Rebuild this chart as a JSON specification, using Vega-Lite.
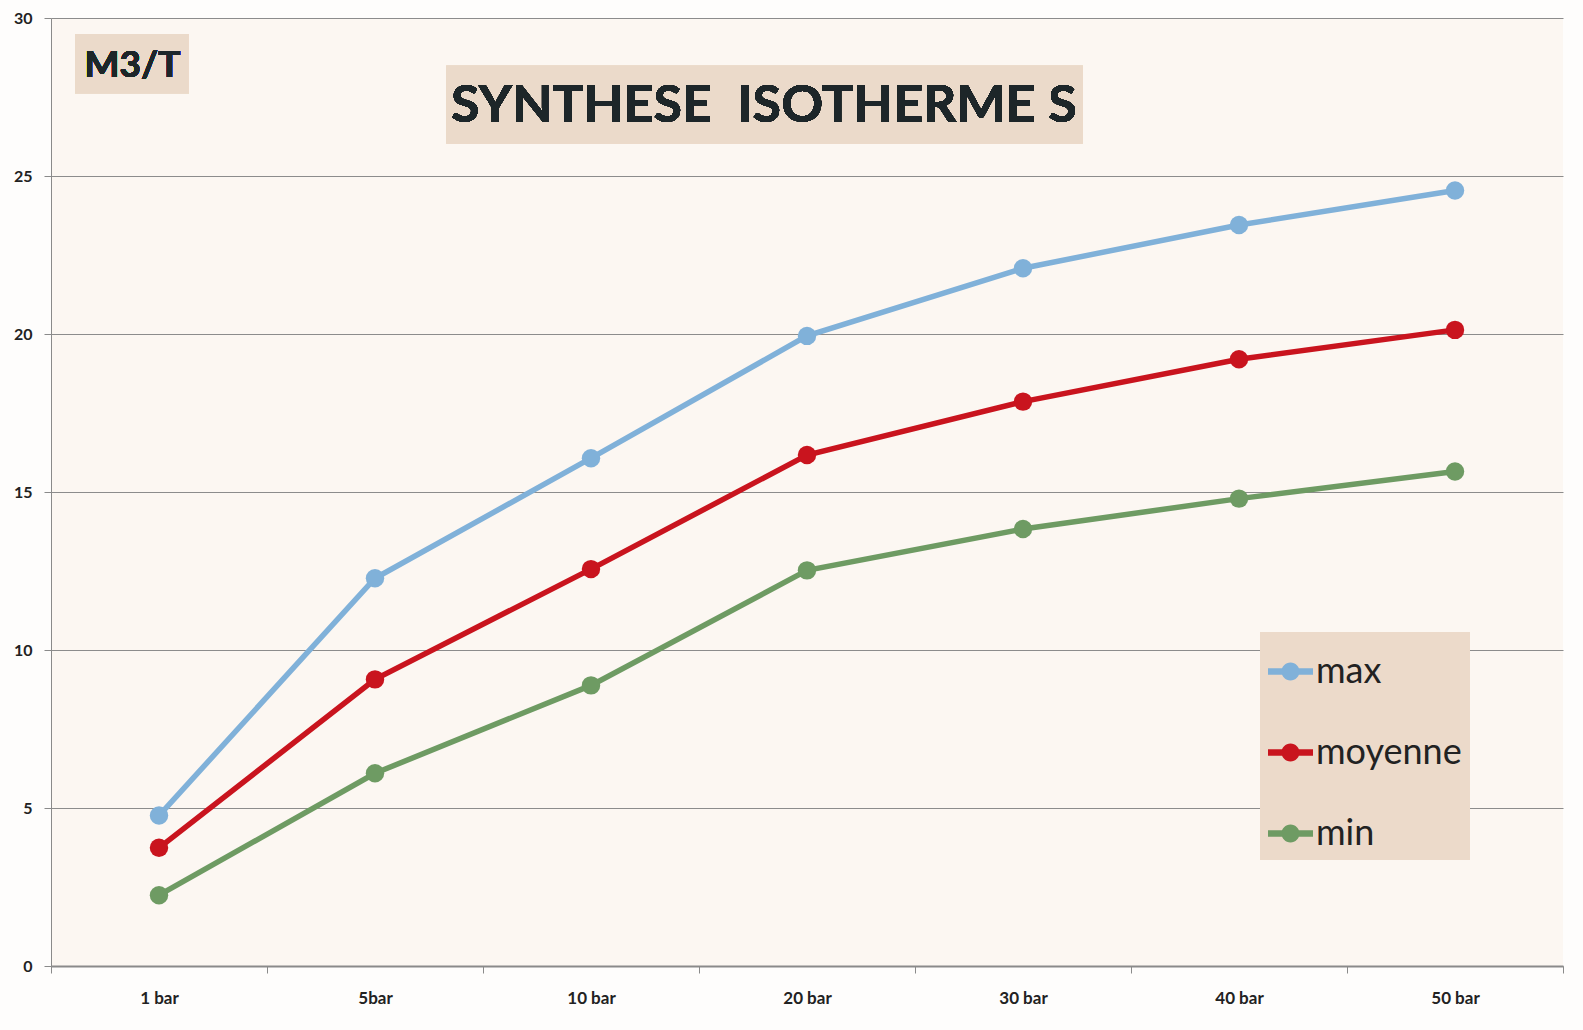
{
  "$schema": "https://vega.github.io/schema/vega-lite/v6.json",
  "width": 1512,
  "height": 948,
  "autosize": "none",
  "padding": {"left": 51, "top": 18, "right": 20, "bottom": 64},
  "background": "#fefdfc",
  "config": {
    "view": {"fill": "#fcf7f2", "stroke": null},
    "font": "Lato"
  },
  "data": {
    "values": [
      {"p": "1 bar", "s": "max", "v": 4.76},
      {"p": "5bar", "s": "max", "v": 12.27},
      {"p": "10 bar", "s": "max", "v": 16.07},
      {"p": "20 bar", "s": "max", "v": 19.94},
      {"p": "30 bar", "s": "max", "v": 22.08},
      {"p": "40 bar", "s": "max", "v": 23.45},
      {"p": "50 bar", "s": "max", "v": 24.54},
      {"p": "1 bar", "s": "moyenne", "v": 3.74},
      {"p": "5bar", "s": "moyenne", "v": 9.07},
      {"p": "10 bar", "s": "moyenne", "v": 12.56},
      {"p": "20 bar", "s": "moyenne", "v": 16.17},
      {"p": "30 bar", "s": "moyenne", "v": 17.86},
      {"p": "40 bar", "s": "moyenne", "v": 19.2},
      {"p": "50 bar", "s": "moyenne", "v": 20.13},
      {"p": "1 bar", "s": "min", "v": 2.24},
      {"p": "5bar", "s": "min", "v": 6.1},
      {"p": "10 bar", "s": "min", "v": 8.88},
      {"p": "20 bar", "s": "min", "v": 12.52},
      {"p": "30 bar", "s": "min", "v": 13.83},
      {"p": "40 bar", "s": "min", "v": 14.79},
      {"p": "50 bar", "s": "min", "v": 15.65}
    ]
  },
  "layer": [
    {
      "layer": [
        {
          "mark": {"type": "rect", "color": "#ebdaca"},
          "encoding": {
            "x": {"datum": 1.83, "type": "quantitative", "scale": {"domain": [0, 7], "nice": false, "zero": false}, "axis": null},
            "x2": {"datum": 4.776},
            "y": {"datum": 28.49, "type": "quantitative"},
            "y2": {"datum": 26.03}
          }
        },
        {
          "mark": {"type": "text", "font": "Lato", "fontWeight": "bold", "fontSize": 52, "color": "#1d2629", "align": "center", "baseline": "middle"},
          "encoding": {
            "x": {"datum": 3.3, "type": "quantitative"},
            "y": {"datum": 27.2, "type": "quantitative"},
            "text": {"value": "SYNTHESE \u00a0ISOTHERME S"}
          }
        },
        {
          "mark": {"type": "rect", "color": "#ebdaca"},
          "encoding": {
            "x": {"datum": 0.113, "type": "quantitative"},
            "x2": {"datum": 0.636},
            "y": {"datum": 29.49, "type": "quantitative"},
            "y2": {"datum": 27.62}
          }
        },
        {
          "mark": {"type": "text", "font": "Lato", "fontWeight": "bold", "fontSize": 37, "color": "#1d2629", "align": "center", "baseline": "middle"},
          "encoding": {
            "x": {"datum": 0.377, "type": "quantitative"},
            "y": {"datum": 28.48, "type": "quantitative"},
            "text": {"value": "M3/T"}
          }
        }
      ]
    },
    {
      "mark": {"type": "line", "strokeWidth": 5.5, "point": {"filled": true, "size": 340, "opacity": 1}},
      "encoding": {
        "x": {
          "field": "p",
          "type": "nominal",
          "sort": ["1 bar", "5bar", "10 bar", "20 bar", "30 bar", "40 bar", "50 bar"],
          "scale": {"type": "band", "paddingInner": 0, "paddingOuter": 0},
          "axis": {
            "orient": "bottom",
            "title": null,
            "labelAngle": 0,
            "tickBand": "extent",
            "grid": false,
            "domainColor": "#8a8a8a",
            "domainWidth": 2,
            "tickColor": "#8a8a8a",
            "tickSize": 7,
            "labelPadding": 17,
            "labelFont": "Lato",
            "labelFontWeight": "bold",
            "labelFontSize": 17,
            "labelColor": "#222222"
          }
        },
        "y": {
          "field": "v",
          "type": "quantitative",
          "scale": {"domain": [0, 30], "nice": false},
          "axis": {
            "title": null,
            "values": [0, 5, 10, 15, 20, 25, 30],
            "grid": true,
            "gridColor": "#8c8c8c",
            "gridWidth": 1,
            "domainColor": "#8a8a8a",
            "tickColor": "#8a8a8a",
            "tickSize": 7,
            "labelPadding": 12,
            "labelFont": "Lato",
            "labelFontWeight": "bold",
            "labelFontSize": 16,
            "labelColor": "#222222"
          }
        },
        "color": {
          "field": "s",
          "type": "nominal",
          "sort": ["max", "moyenne", "min"],
          "scale": {"domain": ["max", "moyenne", "min"], "range": ["#80b1d9", "#c9141e", "#6e9b63"]},
          "legend": {
            "title": "\u00a0",
            "titleFontSize": 5,
            "titlePadding": 4,
            "orient": "none",
            "legendX": 1209,
            "legendY": 614,
            "fillColor": "#ecdaca",
            "padding": 8,
            "rowPadding": 40,
            "symbolType": "M-1,-0.14H1V0.14H-1Z M0.4,0A0.4,0.4 0 1 1 -0.4,0A0.4,0.4 0 1 1 0.4,0Z",
            "symbolSize": 2025,
            "symbolStrokeWidth": 0,
            "labelFont": "Lato",
            "labelFontSize": 36,
            "labelColor": "#222222",
            "labelOffset": 3,
            "encode": {
              "symbols": {"update": {"fill": {"scale": "color", "field": "value"}, "stroke": {"value": "transparent"}, "opacity": {"value": 1}}}
            }
          }
        }
      }
    }
  ],
  "resolve": {"scale": {"x": "independent"}}
}
